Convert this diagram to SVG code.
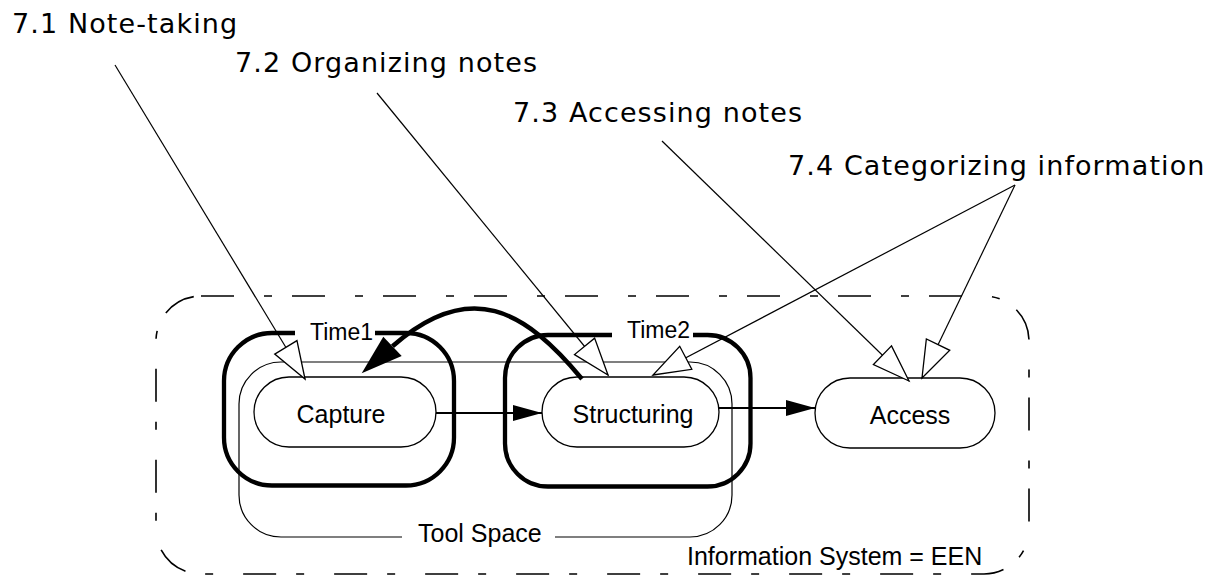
<svg xmlns="http://www.w3.org/2000/svg" width="1220" height="575" viewBox="0 0 1220 575">
<style>
.lbl{font-family:"DejaVu Sans",sans-serif;font-size:27px;letter-spacing:1.1px;fill:#000}
.txt{font-family:"Liberation Sans",Arial,sans-serif;font-size:25px;fill:#000}
.tm{font-family:"Liberation Sans",Arial,sans-serif;font-size:23px;fill:#000}
.pill{fill:#fff;stroke:#000;stroke-width:1.3}
.thick{fill:none;stroke:#000;stroke-width:4.3}
.thin{fill:none;stroke:#000;stroke-width:1.2}
.ptr{fill:none;stroke:#000;stroke-width:1.2}
</style>
<defs>
<marker id="hollow" markerUnits="userSpaceOnUse" viewBox="-40 -16 44 32" markerWidth="44" markerHeight="32" refX="0" refY="0" orient="auto">
<path d="M0,0 L-37,-13 L-37,13 Z" fill="#fff" stroke="#000" stroke-width="1.3"/>
</marker>
<marker id="solid" markerUnits="userSpaceOnUse" viewBox="-32 -10 34 20" markerWidth="34" markerHeight="20" refX="0" refY="0" orient="auto">
<path d="M0,0 L-29,-8 L-29,8 Z" fill="#000"/>
</marker>
</defs>

<g id="information-system">
<rect x="156" y="296" width="873" height="278" rx="45" ry="45" fill="none" stroke="#000" stroke-width="1.6" stroke-dasharray="33 30 8 20"/>
<text class="txt" x="687" y="565">Information System = EEN</text>
</g>

<g id="tool-space">
<path class="thin" d="M402 537 L281 537 A42 42 0 0 1 239 495 L239 404 A42 42 0 0 1 281 362 L690 362 A42 42 0 0 1 732 404 L732 495 A42 42 0 0 1 690 537 L555 537"/>
<text class="txt" x="418" y="542">Tool Space</text>
</g>

<g id="time1">
<path class="thick" d="M295 333 L272 333 A48 48 0 0 0 224 381 L224 437.5 A48 48 0 0 0 272 485.5 L406 485.5 A48 48 0 0 0 454 437.5 L454 381 A48 48 0 0 0 406 333 L375 333"/>
<text class="tm" x="310" y="340">Time1</text>
</g>

<g id="time2">
<path class="thick" d="M612 335 L548 335 A43 43 0 0 0 505 378 L505 443.5 A43 43 0 0 0 548 486.5 L707.5 486.5 A43 43 0 0 0 750.5 443.5 L750.5 378 A43 43 0 0 0 707.5 335 L693 335"/>
<text class="tm" x="627" y="338">Time2</text>
</g>

<g id="capture">
<rect class="pill" x="254" y="377" width="182" height="70" rx="35" ry="35"/>
<text class="txt" x="341" y="423" text-anchor="middle">Capture</text>
</g>

<g id="structuring">
<rect class="pill" x="542" y="377" width="177" height="70" rx="35" ry="35"/>
<text class="txt" x="633" y="423" text-anchor="middle">Structuring</text>
</g>

<g id="access">
<rect class="pill" x="815" y="378" width="180" height="70" rx="35" ry="35"/>
<text class="txt" x="910" y="424" text-anchor="middle">Access</text>
</g>

<g id="label-71"><text class="lbl" x="12" y="33">7.1 Note-taking</text></g>
<g id="label-72"><text class="lbl" x="235" y="72">7.2 Organizing notes</text></g>
<g id="label-73"><text class="lbl" x="513" y="122">7.3 Accessing notes</text></g>
<g id="label-74"><text class="lbl" x="788" y="175">7.4 Categorizing information</text></g>

<g id="connectors">
<line x1="436" y1="413" x2="542" y2="413" stroke="#000" stroke-width="2" marker-end="url(#solid)"/>
<line x1="719" y1="408" x2="815" y2="408" stroke="#000" stroke-width="2" marker-end="url(#solid)"/>
<path d="M582 379 C525 310 470 278 392.5 346.3" fill="none" stroke="#000" stroke-width="4.5"/>
<polygon points="361.7,373.3 383.3,336.7 401.7,356" fill="#000"/>
<line class="ptr" x1="115" y1="65" x2="305" y2="379" marker-end="url(#hollow)"/>
<line class="ptr" x1="377" y1="93" x2="608" y2="375" marker-end="url(#hollow)"/>
<line class="ptr" x1="662" y1="141" x2="909" y2="381" stroke-width="1" marker-end="url(#hollow)"/>
<line class="ptr" x1="1015" y1="185" x2="653" y2="375" marker-end="url(#hollow)"/>
<line class="ptr" x1="1015" y1="185" x2="922" y2="378" marker-end="url(#hollow)"/>
</g>
</svg>
